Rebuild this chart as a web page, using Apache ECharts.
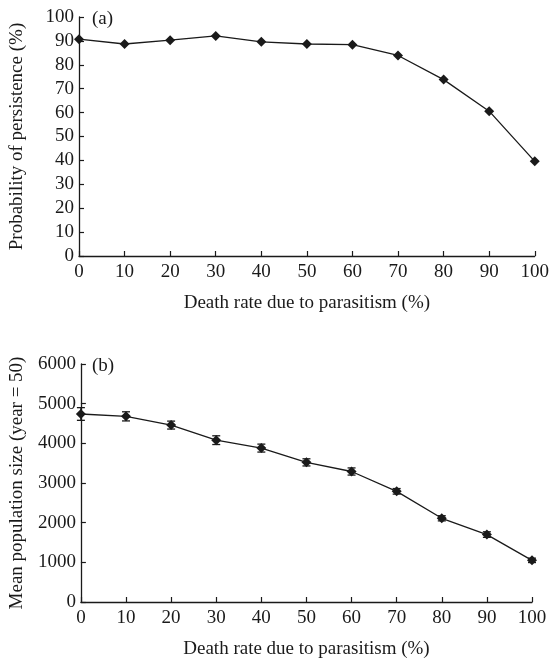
<!DOCTYPE html>
<html>
<head>
<meta charset="utf-8">
<script src="https://cdn.jsdelivr.net/npm/echarts@6/dist/echarts.min.js"></script>
<style>
  html, body { margin: 0; padding: 0; background: #fff; }
  #chart { width: 552px; height: 660px; }
</style>
</head>
<body>
<div id="chart"></div>
<script>
// death rate due to parasitism (%)
var deathRate = [0, 10, 20, 30, 40, 50, 60, 70, 80, 90, 100]
// (a) probability of persistence (%)
var persistence = [90.7, 88.7, 90.3, 92.1, 89.6, 88.7, 88.4, 83.9, 73.8, 60.6, 39.6]
// (b) mean population size at year 50, with error (+/-)
var popSize = [4740, 4680, 4460, 4080, 3880, 3520, 3290, 2790, 2110, 1700, 1050]
var popErr = [160, 115, 100, 110, 100, 90, 90, 70, 65, 70, 55]

var serif = 'Liberation Serif'
var ink = '#1a1a1a'
var fs = 19

function pairs (xs, ys) {
  return xs.map(function (x, i) { return [x, ys[i]] })
}

var errData = deathRate.map(function (x, i) {
  return [x, popSize[i] - popErr[i], popSize[i] + popErr[i]]
})

function axisCommon () {
  return {
    axisLine: { show: true, lineStyle: { color: ink, width: 1.3 } },
    axisTick: { show: true, inside: true, length: 5, lineStyle: { color: ink, width: 1.2 } },
    axisLabel: {
      color: ink,
      fontFamily: serif,
      fontSize: fs,
      formatter: function (v) { return String(v) }
    },
    splitLine: { show: false },
    nameTextStyle: { color: ink, fontFamily: serif, fontSize: fs }
  }
}

function xAxisOf (idx) {
  var ax = Object.assign(axisCommon(), {
    type: 'value',
    gridIndex: idx,
    min: 0,
    max: 100,
    interval: 10,
    name: 'Death rate due to parasitism (%)',
    nameLocation: 'middle',
    nameGap: 38
  })
  ax.axisLabel.margin = 7
  return ax
}

var yA = Object.assign(axisCommon(), {
  type: 'value',
  gridIndex: 0,
  min: 0,
  max: 100,
  interval: 10,
  name: 'Probability of persistence (%)',
  nameLocation: 'middle',
  nameGap: 52
})
yA.axisLabel.margin = 5

var yB = Object.assign(axisCommon(), {
  type: 'value',
  gridIndex: 1,
  min: 0,
  max: 6000,
  interval: 1000,
  name: 'Mean population size (year = 50)',
  nameLocation: 'middle',
  nameGap: 52
})
yB.axisLabel.margin = 5

var chart = echarts.init(document.getElementById('chart'))
var option = {
  backgroundColor: '#fff',
  animation: false,
  title: [
    { text: '(a)', left: 87, top: 5, textStyle: { color: ink, fontFamily: serif, fontSize: fs, fontWeight: 'normal' } },
    { text: '(b)', left: 87, top: 352, textStyle: { color: ink, fontFamily: serif, fontSize: fs, fontWeight: 'normal' } }
  ],
  grid: [
    { left: 79, top: 17, width: 459, height: 239 },
    { left: 79, top: 364, width: 453, height: 239 }
  ],
  xAxis: [xAxisOf(0), xAxisOf(1)],
  yAxis: [yA, yB],
  series: [
    {
      type: 'line',
      xAxisIndex: 0,
      yAxisIndex: 0,
      data: pairs(deathRate, persistence),
      symbol: 'diamond',
      symbolSize: 10,
      itemStyle: { color: ink },
      lineStyle: { color: ink, width: 1.3 }
    },
    {
      type: 'custom',
      xAxisIndex: 1,
      yAxisIndex: 1,
      data: errData,
      z: 3,
      renderItem: function (params, api) {
        var lo = api.coord([api.value(0), api.value(1)])
        var hi = api.coord([api.value(0), api.value(2)])
        var w = 4
        var style = { stroke: ink, lineWidth: 1.3 }
        return {
          type: 'group',
          children: [
            { type: 'line', shape: { x1: lo[0], y1: lo[1], x2: hi[0], y2: hi[1] }, style: style },
            { type: 'line', shape: { x1: lo[0] - w, y1: lo[1], x2: lo[0] + w, y2: lo[1] }, style: style },
            { type: 'line', shape: { x1: hi[0] - w, y1: hi[1], x2: hi[0] + w, y2: hi[1] }, style: style }
          ]
        }
      }
    },
    {
      type: 'line',
      xAxisIndex: 1,
      yAxisIndex: 1,
      data: pairs(deathRate, popSize),
      symbol: 'diamond',
      symbolSize: 10,
      z: 4,
      itemStyle: { color: ink },
      lineStyle: { color: ink, width: 1.3 }
    }
  ]
}
chart.setOption(option)
</script>
</body>
</html>
